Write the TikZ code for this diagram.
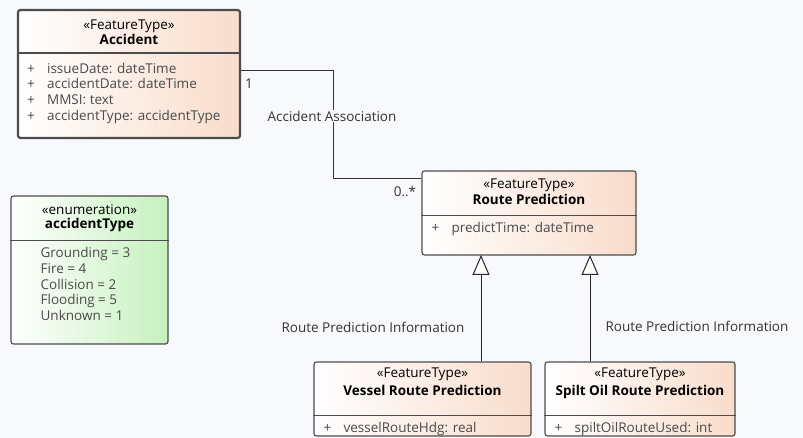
\documentclass[tikz,border=0pt]{standalone}
\usepackage{fontspec}
\setmainfont{Open Sans}
\usetikzlibrary{positioning,arrows.meta}
\definecolor{bgcol}{HTML}{F8F9FD}
\definecolor{peach}{HTML}{F9DCCB}
\definecolor{mint}{HTML}{C6F1BE}
\definecolor{txtgray}{HTML}{4A4A4A}
\tikzset{class node/.style={draw=black!70,line width=1.1pt,rounded corners=2.5pt,left color=white,right color=peach,inner sep=0pt},
	enum node/.style={class node,right color=mint},
	stereo/.style={inner sep=0pt,anchor=base,font=\fontsize{13.5}{15}\selectfont},
	title/.style={inner sep=0pt,anchor=base,font=\fontsize{13.5}{15}\selectfont\bfseries},
	attr/.style={inner sep=0pt,anchor=north west,align=left,text=txtgray,font=\fontsize{13.5}{15.6}\selectfont},
	lbl/.style={inner sep=1pt,font=\fontsize{13.5}{15}\selectfont,text=black!80},
	split/.style={draw=black!70,line width=1pt},
	assoc/.style={draw=black!80,line width=1pt},
	gen/.style={draw=black!85,line width=1pt,-{Triangle[open,length=20pt,width=17pt,fill=white!95!peach]}},}

\begin{document}
\begin{tikzpicture}[x=1pt,y=-1pt]
	\fill[bgcol] (0,0) rectangle (803,438);
	\useasboundingbox (0,0) rectangle (803,438);

	% accident
	\node[class node,line width=2.2pt,minimum width=222pt,minimum height=128pt] (acc) at (129,74) {};
	\node[stereo,below=21pt of acc.north,anchor=base] (acc-st) {«FeatureType»};
	\node[title,below=15pt of acc-st.base,anchor=base] (acc-nm) {Accident};
	\draw[split,line width=2pt] ([yshift=-44pt]acc.north west) -- ([yshift=-44pt]acc.north east);
	\node[attr,below right=54pt and 10pt of acc.north west] (acc-at) {%
		\makebox[20pt][l]{+}issueDate: dateTime\\
		\makebox[20pt][l]{+}accidentDate: dateTime\\
		\makebox[20pt][l]{+}MMSI: text\\
		\makebox[20pt][l]{+}accidentType: accidentType};

	% enumeration
	\node[enum node,minimum width=157pt,minimum height=148pt] (typ) at (89.5,270) {};
	\node[stereo,below=19pt of typ.north,anchor=base] (typ-st) {«enumeration»};
	\node[title,below=14pt of typ-st.base,anchor=base] (typ-nm) {accidentType};
	\draw[split] ([yshift=-45pt]typ.north west) -- ([yshift=-45pt]typ.north east);
	\node[attr,below right=52pt and 30pt of typ.north west] (typ-at) {%
		Grounding = 3\\
		Fire = 4\\
		Collision = 2\\
		Flooding = 5\\
		Unknown = 1};

	% route prediction
	\node[class node,minimum width=214pt,minimum height=84pt] (rp) at (529,213) {};
	\node[stereo,below=18pt of rp.north,anchor=base] (rp-st) {«FeatureType»};
	\node[title,below=16pt of rp-st.base,anchor=base] (rp-nm) {Route Prediction};
	\draw[split] ([yshift=-45pt]rp.north west) -- ([yshift=-45pt]rp.north east);
	\node[attr,below right=52pt and 10pt of rp.north west] (rp-at) {%
		\makebox[20pt][l]{+}predictTime: dateTime};

	% vessel
	\node[class node,minimum width=217pt,minimum height=74pt] (ves) at (422.5,399) {};
	\node[stereo,below=16pt of ves.north,anchor=base] (ves-st) {«FeatureType»};
	\node[title,below=18pt of ves-st.base,anchor=base] (ves-nm) {Vessel Route Prediction};
	\draw[split] ([yshift=-54pt]ves.north west) -- ([yshift=-54pt]ves.north east);
	\node[attr,below right=61pt and 10pt of ves.north west] (ves-at) {%
		\makebox[20pt][l]{+}vesselRouteHdg: real};

	% spilt oil
	\node[class node,minimum width=190pt,minimum height=74pt] (oil) at (640,399) {};
	\node[stereo,below=16pt of oil.north,anchor=base] (oil-st) {«FeatureType»};
	\node[title,below=18pt of oil-st.base,anchor=base] (oil-nm) {Spilt Oil Route Prediction};
	\draw[split] ([yshift=-54pt]oil.north west) -- ([yshift=-54pt]oil.north east);
	\node[attr,below right=61pt and 10pt of oil.north west] (oil-at) {%
		\makebox[20pt][l]{+}spiltOilRouteUsed: int};

	% association
	\coordinate (bend) at (333,179);
	\draw[assoc] ([yshift=3pt]acc.east) -| (bend) -- (bend -| rp.west);
	\node[lbl] (one) at (249,84) {1};
	\node[lbl,fill=bgcol] (asc) at (332,116) {Accident Association};
	\node[lbl] (many) at (405,191) {0..*};

	% generalizations
	\coordinate (g1) at (481,255);
	\coordinate (g2) at (590,255);
	\draw[gen] (ves.north -| g1) -- (g1);
	\draw[gen] (oil.north -| g2) -- (g2);
	\node[lbl] (gl1) at (373,327) {Route Prediction Information};
	\node[lbl] (gl2) at (697,326) {Route Prediction Information};
\end{tikzpicture}
\end{document}
